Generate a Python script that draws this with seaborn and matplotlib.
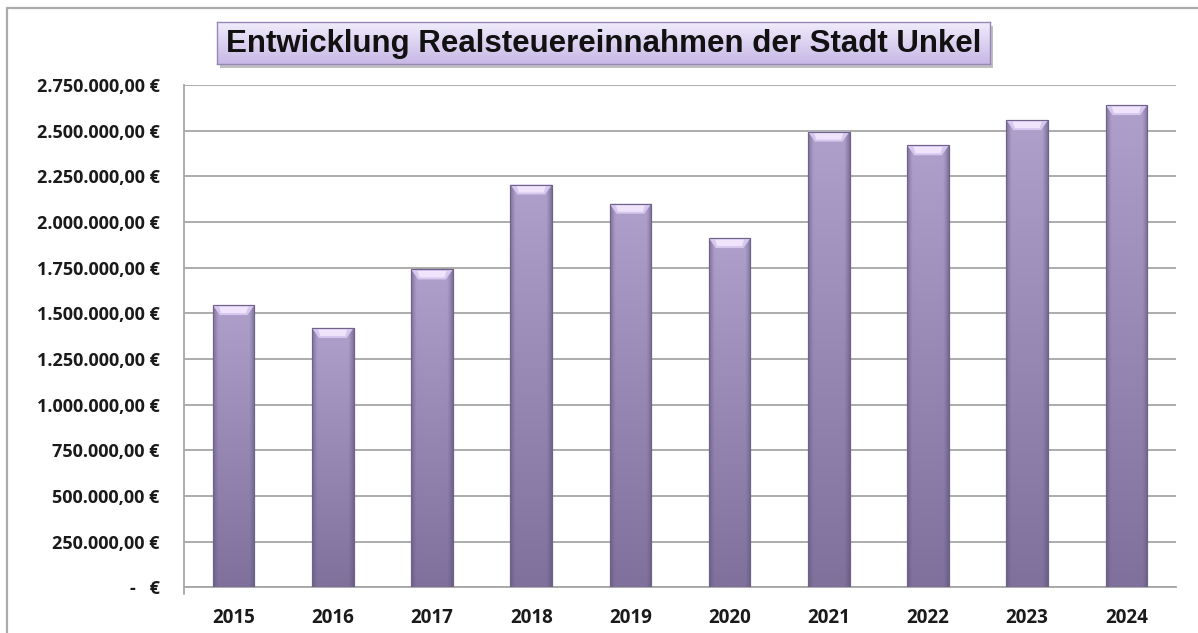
#!/usr/bin/env python3
"""Entwicklung Realsteuereinnahmen der Stadt Unkel - Excel-style bar chart."""

import numpy as np
import pandas as pd
import matplotlib
matplotlib.use('Agg')
import matplotlib.pyplot as plt
from matplotlib.colors import to_rgb
from matplotlib.lines import Line2D
from matplotlib.patches import Polygon, Rectangle
from matplotlib.ticker import FixedLocator, FuncFormatter
import seaborn as sns

# data
years = ['2015', '2016', '2017', '2018', '2019', '2020', '2021', '2022', '2023', '2024']
revenue = [1545000, 1420000, 1740000, 2205000, 2100000, 1912000, 2495000, 2420000, 2558000, 2640000]
y_ticks = [0, 250000, 500000, 750000, 1000000, 1250000, 1500000, 1750000,
           2000000, 2250000, 2500000, 2750000]
title = 'Entwicklung Realsteuereinnahmen der Stadt Unkel'

W, H, DPI = 1198, 633, 100


def euro(v, pos=None):
    if v == 0:
        return '-   €'
    s = f'{v:,.2f}'.replace(',', 'X').replace('.', ',').replace('X', '.')
    return f'{s} €'


def mix(c1, c2, t):
    c1, c2 = np.array(to_rgb(c1)), np.array(to_rgb(c2))
    return c1 + (c2 - c1) * t


sns.set_style('white')
plt.rcParams['font.family'] = ['Open Sans', 'DejaVu Sans']

fig = plt.figure(figsize=(W / DPI, H / DPI), dpi=DPI)
ax = fig.add_axes([184 / W, 1 - 587.3 / H, (1176 - 184) / W, (587.3 - 85) / H])

df = pd.DataFrame({'year': years, 'revenue': revenue})
sns.barplot(data=df, x='year', y='revenue', width=0.42, color='#9d8fbc',
            edgecolor='#6e6289', linewidth=0.8, saturation=1, ax=ax, zorder=3)

ax.set_xlim(-0.5, len(years) - 0.5)
ax.set_ylim(0, 2750000)
ax.set_xlabel('')
ax.set_ylabel('')

# grid + axes styling
ax.yaxis.set_major_locator(FixedLocator(y_ticks))
ax.yaxis.set_major_formatter(FuncFormatter(euro))
ax.grid(axis='y', color='#a6a6a6', linewidth=1.3, zorder=0)
ax.grid(axis='x', visible=False)
ax.set_axisbelow(True)
for side in ['top', 'right']:
    ax.spines[side].set_visible(False)
for side in ['left', 'bottom']:
    ax.spines[side].set_color('#a6a6a6')
    ax.spines[side].set_linewidth(1.3)
ax.spines['left'].set_bounds(0, 2750000)

ax.tick_params(axis='y', which='major', direction='out', length=5.5, width=1.0,
               color='#a6a6a6', pad=12, labelsize=13)
ax.tick_params(axis='x', which='major', length=0, pad=15, labelsize=13.5)
ax.set_xticks(np.arange(-0.5, len(years), 1.0), minor=True)
ax.tick_params(axis='x', which='minor', direction='out', length=6, width=1.0,
               color='#a6a6a6')
for lab in ax.get_xticklabels() + ax.get_yticklabels():
    lab.set_fontweight('bold')
    lab.set_color('#1a1a1a')

# extend left axis a bit below zero like Excel
ax.add_line(Line2D([-0.5, -0.5], [0, -35000], color='#a6a6a6', lw=1.3,
                   clip_on=False, zorder=2))

# shaded bar fill (vertical gradient, darker edges, bevelled top)
fig.canvas.draw()
px_x = ax.bbox.width / (ax.get_xlim()[1] - ax.get_xlim()[0])
px_y = ax.bbox.height / (ax.get_ylim()[1] - ax.get_ylim()[0])
rows, cols = 80, 40
tv = np.linspace(0, 1, rows)[:, None, None]
u = np.linspace(0, 1, cols)[None, :, None]
base = mix('#ae9fcb', '#7f719b', 1)[None, None, :] * tv + \
    mix('#ae9fcb', '#7f719b', 0)[None, None, :] * (1 - tv)
edge = np.clip(1 - np.minimum(u, 1 - u) / 0.12, 0, 1)
dark = np.array(to_rgb('#5e5378'))[None, None, :]
img = base * (1 - 0.55 * edge) + dark * 0.55 * edge

for p in ax.patches:
    x0, w, h = p.get_x(), p.get_width(), p.get_height()
    im = ax.imshow(img, extent=(x0, x0 + w, 0, h), aspect='auto',
                   zorder=3.5, interpolation='bilinear')
    im.set_clip_path(p)
    bx, by = 7 / px_x, 10 / px_y
    ax.add_patch(Polygon([(x0, h), (x0 + w, h), (x0 + w - bx, h - by), (x0 + bx, h - by)],
                         closed=True, facecolor='#d6c7ef', edgecolor='none', zorder=3.6))
    ax.add_patch(Polygon([(x0 + w * 0.15, h - by * 0.15), (x0 + w * 0.85, h - by * 0.15),
                          (x0 + w - bx * 1.2, h - by * 0.8), (x0 + bx * 1.2, h - by * 0.8)],
                         closed=True, facecolor='#efe4fb', edgecolor='none', zorder=3.7))
    ax.add_patch(Rectangle((x0, 0), w, h, facecolor='none', edgecolor='#6e6289',
                           linewidth=0.8, zorder=3.8))

# title box with gradient and shadow
bx0, by0, bw, bh = 217, 22, 773, 42
fig.patches.append(Rectangle(((bx0 + 3) / W, 1 - (by0 + bh + 4) / H), bw / W, bh / H,
                             transform=fig.transFigure, facecolor='#8c8c8c',
                             alpha=0.55, edgecolor='none', zorder=1))
tax = fig.add_axes([bx0 / W, 1 - (by0 + bh) / H, bw / W, bh / H], zorder=2)
grad = np.linspace(0, 1, 50)[:, None, None]
title_img = mix('#f1ecfb', '#c7b8e6', 1)[None, None, :] * grad + \
    mix('#f1ecfb', '#c7b8e6', 0)[None, None, :] * (1 - grad)
tax.imshow(title_img, extent=(0, 1, 0, 1), aspect='auto', interpolation='bilinear')
tax.set_xlim(0, 1)
tax.set_ylim(0, 1)
tax.set_xticks([])
tax.set_yticks([])
for s in tax.spines.values():
    s.set_color('#9687b8')
    s.set_linewidth(1.0)
tax.text(0.5, 0.47, title, ha='center', va='center', fontsize=22.5,
         fontweight='bold', family=['Liberation Sans', 'DejaVu Sans'], color='#111111')

# outer chart frame (top and left edges visible)
fig.lines.append(Line2D([7 / W, 7 / W], [0, 1 - 8 / H], transform=fig.transFigure,
                        color='#ababab', lw=1.6))
fig.lines.append(Line2D([7 / W, 1], [1 - 8 / H, 1 - 8 / H], transform=fig.transFigure,
                        color='#ababab', lw=1.6))

fig.savefig('out.png', dpi=DPI, facecolor='white')
